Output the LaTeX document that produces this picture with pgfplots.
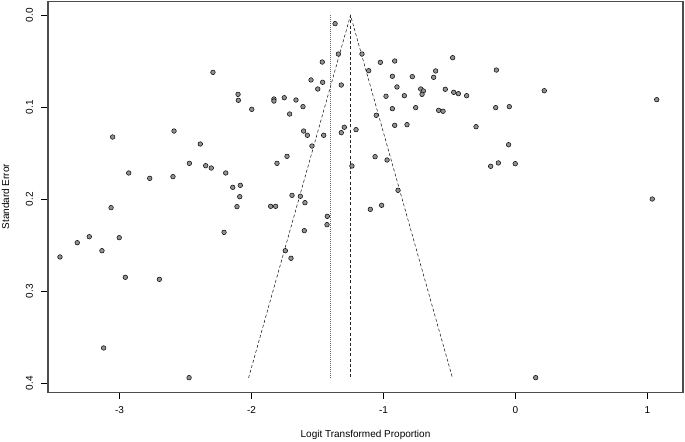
\documentclass[border=0pt]{standalone}
\usepackage{pgfplots}
\usepackage{pgfplotstable}
\pgfplotsset{compat=1.18}
\usepackage{fontspec}
\setmainfont{Liberation Sans}
\definecolor{ptfill}{RGB}{145,145,145}

\pgfplotstableread{
x se
-2.292 0.0620
-2.102 0.0859
-2.100 0.0924
-1.998 0.1022
-3.052 0.1323
-2.587 0.1258
-2.388 0.1399
-2.471 0.1609
-2.347 0.1635
-2.305 0.1660
-2.930 0.1714
-2.771 0.1772
-2.595 0.1754
-2.195 0.1714
-2.142 0.1870
-2.085 0.1848
-2.089 0.1972
-2.110 0.2080
-3.064 0.2091
-3.451 0.2627
-3.320 0.2472
-3.229 0.2407
-3.133 0.2559
-3.002 0.2417
-2.956 0.2848
-2.698 0.2870
-2.208 0.2359
-3.120 0.3616
-2.473 0.3939
-1.367 0.0091
-1.342 0.0421
-1.163 0.0421
-1.464 0.0508
-1.024 0.0511
-0.915 0.0497
-0.476 0.0461
-1.112 0.0602
-0.605 0.0605
-0.620 0.0674
-0.933 0.0663
-0.782 0.0667
-1.549 0.0703
-1.461 0.0728
-1.320 0.0758
-1.498 0.0801
-0.898 0.0779
-0.718 0.0801
-0.698 0.0823
-0.708 0.0859
-0.532 0.0804
-0.468 0.0837
-0.433 0.0852
-0.370 0.0874
-0.981 0.0880
-0.842 0.0874
-1.830 0.0910
-1.830 0.0932
-1.752 0.0896
-1.663 0.0921
-1.610 0.0993
-1.711 0.1073
-0.933 0.1015
-0.756 0.1004
-0.582 0.1033
-0.549 0.1043
-1.055 0.1087
-0.299 0.1211
-0.915 0.1196
-0.822 0.1189
-1.605 0.1258
-1.577 0.1304
-1.453 0.1304
-1.320 0.1276
-1.297 0.1217
-1.208 0.1243
-1.542 0.1421
-1.731 0.1533
-1.807 0.1609
-1.064 0.1537
-0.973 0.1573
-1.239 0.1638
-1.693 0.1957
-1.630 0.1967
-1.595 0.2037
-1.855 0.2076
-1.817 0.2076
-0.890 0.1902
-1.014 0.2065
-1.100 0.2109
-1.426 0.2185
-1.428 0.2276
-1.600 0.2341
-1.744 0.2559
-1.701 0.2641
-0.145 0.0595
0.218 0.0820
-0.150 0.1004
-0.047 0.0993
-0.052 0.1407
-0.188 0.1641
-0.130 0.1605
-0.002 0.1613
1.070 0.0917
1.036 0.1997
0.153 0.3939
}\studies

\begin{document}
\begin{tikzpicture}[font=\fontsize{10bp}{12bp}\selectfont]
\path[use as bounding box] (0,0) rectangle (685bp,442bp);
\begin{axis}[
  at={(47.7bp,49.7bp)}, anchor=south west,
  scale only axis, width=635.3bp, height=390.8bp,
  xmin=-3.544, xmax=1.269, ymin=-0.0150, ymax=0.4098,
  y dir=reverse,
  xtick={-3,-2,-1,0,1}, xticklabels={-3,-2,-1,0,1},
  ytick={0,0.1,0.2,0.3,0.4}, yticklabels={0.0,0.1,0.2,0.3,0.4},
  tick pos=left, tick align=outside, major tick length=6.5bp,
  tick style={black, line width=0.6bp},
  axis line style={black!80, line width=1.2bp},
  tick label style={font=\fontsize{10bp}{12bp}\selectfont},
  xticklabel style={anchor=north, inner sep=0pt},
  yticklabel style={rotate=90, anchor=south, inner sep=0pt},
  xticklabel shift=8bp, yticklabel shift=8bp,
  clip=false,
]
\addplot[black, line width=0.5bp, dash pattern=on 3bp off 2.2bp] coordinates {(-2.022,0.394) (-1.25,0) (-0.478,0.394)};
\addplot[black!85, line width=0.45bp, dash pattern=on 3bp off 2.2bp] coordinates {(-1.25,0) (-1.25,0.394)};
\addplot[black!60, line width=0.5bp, dash pattern=on 0.8bp off 1.2bp] coordinates {(-1.405,0) (-1.405,0.394)};
\addplot[only marks, mark=*, mark size=2.3bp, mark options={fill=ptfill, draw=black, line width=0.5bp}] table[x=x, y=se] {\studies};
\draw[black!70, line width=1.6bp] (rel axis cs:0,0) rectangle (rel axis cs:1,1);
\end{axis}
\node[rotate=90, font=\fontsize{10bp}{12bp}\selectfont] at (5.5bp,245.4bp) {Standard Error};
\node[font=\fontsize{10bp}{12bp}\selectfont] at (365.5bp,6.7bp) {Logit Transformed Proportion};
\end{tikzpicture}
\end{document}
